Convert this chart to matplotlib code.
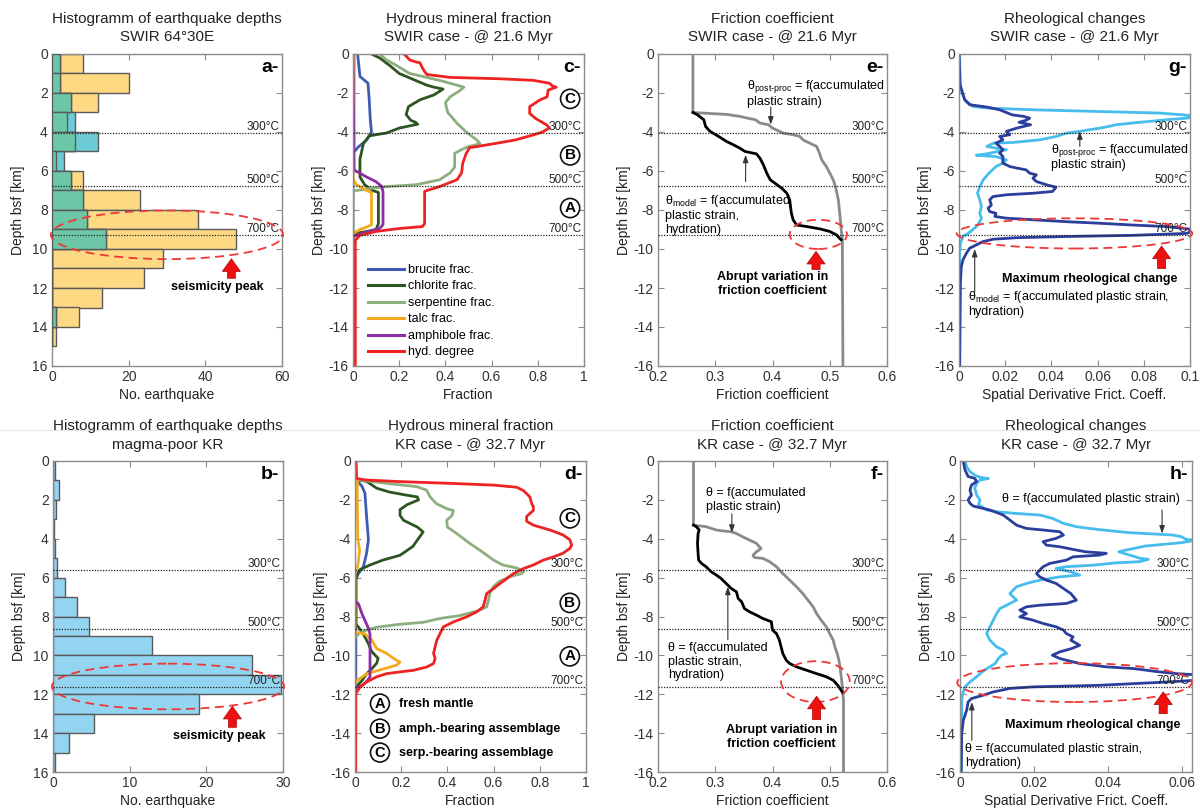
import numpy as np
import matplotlib
matplotlib.use('Agg')
import matplotlib.pyplot as plt
from matplotlib.patches import Ellipse
from matplotlib.lines import Line2D
from matplotlib.ticker import FuncFormatter

plt.rcParams['font.family'] = ['Liberation Sans', 'DejaVu Sans']
plt.rcParams['axes.unicode_minus'] = False
plt.rcParams['mathtext.fontset'] = 'custom'
plt.rcParams['mathtext.rm'] = 'Liberation Sans'
plt.rcParams['mathtext.it'] = 'Liberation Sans:italic'
plt.rcParams['mathtext.bf'] = 'Liberation Sans:bold'

# ---------------- DATA ----------------
# Histogram bins (km below seafloor), 1-km bins
BIN_EDGES_A = list(range(0, 16))
SWIR_YELLOW = [8, 20, 12, 4, 6, 1, 8, 23, 38, 48, 29, 24, 13, 7, 1]
SWIR_CYAN = [2, 2, 5, 6, 12, 3, 5, 8, 9, 14, 0, 0, 0, 1, 0]
BIN_EDGES_B = list(range(0, 17))
KR_COUNTS = [0.2, 0.8, 0.45, 0.1, 0.2, 0.5, 1.5, 3.1, 4.7, 12.9, 26.0, 29.7, 19.1, 5.4, 2.1, 0.2]

ISO_LABELS = ['300°C', '500°C', '700°C']
SWIR_ISO = [4.05, 6.75, 9.3]
KR_ISO = [5.62, 8.64, 11.62]

# Panel c (SWIR hydrous minerals): (depth, fraction)
C_BRUCITE = [(0, 0.02), (-1.15, 0.03), (-1.5, 0.065), (-2.3, 0.07), (-3.4, 0.075), (-4.0, 0.08),
             (-4.4, 0.06), (-4.8, 0.02), (-5.1, 0.0), (-16, 0.0)]
C_CHLORITE = [(0, 0.08), (-0.2, 0.115), (-0.6, 0.16), (-1.0, 0.2), (-1.3, 0.26), (-1.6, 0.32), (-1.7, 0.35),
              (-1.8, 0.39), (-2.1, 0.35), (-2.35, 0.29), (-2.7, 0.24), (-3.1, 0.23), (-3.4, 0.25), (-3.5, 0.27),
              (-3.6, 0.28), (-3.8, 0.2), (-4.05, 0.145), (-4.2, 0.07), (-4.6, 0.045), (-5.4, 0.03), (-6.3, 0.03),
              (-6.7, 0.05), (-7.0, 0.085), (-7.1, 0.11), (-8.7, 0.11), (-9.0, 0.1), (-9.1, 0.06), (-9.2, 0.012),
              (-9.35, 0.0), (-16, 0.0)]
C_SERPENTINE = [(0, 0.115), (-0.3, 0.145), (-0.6, 0.19), (-1.0, 0.245), (-1.2, 0.32), (-1.4, 0.39), (-1.6, 0.45),
                (-1.7, 0.48), (-1.9, 0.46), (-2.2, 0.42), (-2.5, 0.40), (-3.0, 0.41), (-3.2, 0.425), (-3.55, 0.45),
                (-4.0, 0.49), (-4.4, 0.535), (-4.6, 0.55), (-4.75, 0.50), (-4.9, 0.47), (-5.1, 0.44), (-5.8, 0.44),
                (-6.1, 0.42), (-6.45, 0.375), (-6.7, 0.275), (-6.8, 0.145), (-6.9, 0.07), (-7.0, 0.015),
                (-7.05, 0.0), (-16, 0.0)]
C_TALC = [(0, 0.006), (-4.5, 0.005), (-5.0, 0.0), (-6.4, 0.0), (-6.7, 0.015), (-6.9, 0.045), (-7.0, 0.058),
          (-7.1, 0.08), (-8.75, 0.08), (-8.85, 0.065), (-9.0, 0.03), (-9.2, 0.0), (-16, 0.0)]
C_AMPHIBOLE = [(0, 0.0), (-5.95, 0.005), (-6.3, 0.058), (-6.55, 0.1), (-6.8, 0.125), (-7.1, 0.13), (-8.75, 0.13),
               (-8.95, 0.115), (-9.1, 0.07), (-9.3, 0.012), (-9.4, 0.0), (-16, 0.0)]
C_HYD = [(0, 0.22), (-0.1, 0.23), (-0.3, 0.245), (-0.4, 0.27), (-0.45, 0.29), (-0.7, 0.30), (-0.9, 0.31),
         (-1.05, 0.32), (-1.2, 0.42), (-1.27, 0.635), (-1.35, 0.78), (-1.5, 0.85), (-1.65, 0.865), (-1.7, 0.88),
         (-1.85, 0.845), (-2.2, 0.84), (-2.35, 0.81), (-2.7, 0.765), (-3.05, 0.765), (-3.3, 0.79), (-3.65, 0.84),
         (-3.8, 0.85), (-4.0, 0.82), (-4.15, 0.78), (-4.4, 0.705), (-4.55, 0.635), (-4.75, 0.535), (-4.8, 0.505),
         (-5.1, 0.49), (-5.6, 0.475), (-6.1, 0.47), (-6.45, 0.45), (-6.8, 0.375), (-7.0, 0.32), (-7.05, 0.31),
         (-8.7, 0.31), (-8.85, 0.30), (-8.95, 0.20), (-9.1, 0.10), (-9.3, 0.03), (-9.55, 0.01), (-16, 0.01)]

# Panel d (KR hydrous minerals)
D_BRUCITE = [(-0.95, 0.005), (-1.3, 0.03), (-1.65, 0.043), (-2.85, 0.05), (-4.05, 0.058), (-4.75, 0.05),
             (-5.45, 0.036), (-5.8, 0.014), (-6.1, 0.004), (-16, 0.003)]
D_CHLORITE = [(-0.95, 0.0), (-1.05, 0.05), (-1.4, 0.094), (-1.6, 0.15), (-1.75, 0.22), (-1.85, 0.27), (-2.0, 0.275),
              (-2.25, 0.225), (-2.5, 0.195), (-2.8, 0.195), (-3.05, 0.21), (-3.4, 0.27), (-3.65, 0.295),
              (-3.9, 0.28), (-4.4, 0.25), (-4.85, 0.195), (-5.1, 0.12), (-5.35, 0.065), (-5.6, 0.02),
              (-5.95, 0.004), (-8.4, 0.004), (-8.55, 0.015), (-8.9, 0.036), (-9.4, 0.058), (-9.8, 0.072),
              (-10.15, 0.1), (-10.4, 0.094), (-10.7, 0.072), (-10.95, 0.05), (-11.3, 0.03), (-11.55, 0.01),
              (-11.7, 0.0)]
D_SERPENTINE = [(-0.95, 0.0), (-1.03, 0.05), (-1.15, 0.137), (-1.32, 0.267), (-1.5, 0.31), (-1.85, 0.325),
                (-2.2, 0.353), (-2.45, 0.397), (-2.55, 0.426), (-2.8, 0.42), (-3.05, 0.397), (-3.4, 0.40),
                (-3.73, 0.44), (-4.25, 0.498), (-4.65, 0.548), (-5.1, 0.60), (-5.35, 0.64), (-5.5, 0.70),
                (-5.7, 0.73), (-5.8, 0.72), (-5.95, 0.67), (-6.2, 0.625), (-6.45, 0.60), (-6.75, 0.585),
                (-7.15, 0.578), (-7.5, 0.57), (-7.7, 0.535), (-7.95, 0.455), (-8.1, 0.368), (-8.3, 0.296),
                (-8.4, 0.195), (-8.55, 0.094), (-8.7, 0.05), (-8.9, 0.015), (-9.1, 0.0)]
D_TALC = [(-0.95, 0.01), (-2.0, 0.01), (-4.0, 0.012), (-4.6, 0.02), (-5.4, 0.012), (-5.7, 0.0), (-8.8, 0.0),
          (-8.9, 0.043), (-9.2, 0.072), (-9.65, 0.094), (-9.9, 0.137), (-10.15, 0.166), (-10.35, 0.195),
          (-10.5, 0.18), (-10.75, 0.108), (-10.95, 0.05), (-11.2, 0.02), (-11.3, 0.007), (-11.5, 0.0)]
D_AMPHIBOLE = [(-7.2, 0.0), (-7.35, 0.015), (-7.85, 0.03), (-8.2, 0.043), (-8.6, 0.058), (-8.9, 0.065),
               (-11.1, 0.065), (-11.35, 0.05), (-11.55, 0.03), (-11.65, 0.007), (-11.8, 0.0)]
D_HYD = [(0, 0.005), (-0.9, 0.007), (-0.98, 0.05), (-1.06, 0.195), (-1.15, 0.41), (-1.24, 0.6), (-1.35, 0.70),
         (-1.53, 0.73), (-1.85, 0.757), (-2.2, 0.765), (-2.35, 0.772), (-2.55, 0.772), (-2.7, 0.757),
         (-2.85, 0.743), (-3.1, 0.743), (-3.3, 0.772), (-3.55, 0.844), (-3.8, 0.90), (-4.05, 0.93),
         (-4.33, 0.938), (-4.5, 0.93), (-4.75, 0.90), (-4.93, 0.86), (-5.1, 0.815), (-5.35, 0.772),
         (-5.53, 0.73), (-5.8, 0.685), (-6.05, 0.657), (-6.3, 0.628), (-6.56, 0.60), (-6.82, 0.57),
         (-7.16, 0.563), (-7.5, 0.555), (-7.76, 0.527), (-8.02, 0.483), (-8.28, 0.426), (-8.53, 0.383),
         (-8.88, 0.368), (-9.22, 0.354), (-9.56, 0.347), (-9.9, 0.34), (-10.16, 0.347), (-10.42, 0.34),
         (-10.6, 0.31), (-10.77, 0.252), (-10.85, 0.195), (-10.94, 0.137), (-11.1, 0.094), (-11.37, 0.05),
         (-11.63, 0.022), (-11.9, 0.007), (-12.0, 0.003), (-16, 0.003)]

# Panel e (SWIR friction coefficient)
E_POSTPROC = [(0, 0.261), (-3.0, 0.261), (-3.1, 0.32), (-3.2, 0.343), (-3.28, 0.355), (-3.37, 0.37),
              (-3.54, 0.378), (-3.63, 0.393), (-3.8, 0.40), (-4.06, 0.419), (-4.14, 0.436), (-4.23, 0.448),
              (-4.4, 0.453), (-4.57, 0.465), (-4.74, 0.477), (-5.08, 0.482), (-5.43, 0.486), (-5.77, 0.494),
              (-6.1, 0.50), (-6.45, 0.506), (-6.8, 0.51), (-7.48, 0.515), (-8.33, 0.518), (-9.0, 0.52),
              (-9.53, 0.522), (-16, 0.523)]
E_MODEL = [(-3.0, 0.261), (-3.1, 0.268), (-3.37, 0.28), (-3.71, 0.283), (-3.97, 0.291), (-4.23, 0.306),
           (-4.49, 0.32), (-4.66, 0.332), (-4.83, 0.343), (-5.0, 0.352), (-5.12, 0.372), (-5.34, 0.378),
           (-5.68, 0.384), (-6.11, 0.39), (-6.45, 0.396), (-6.62, 0.404), (-6.88, 0.416), (-7.14, 0.425),
           (-7.48, 0.43), (-8.17, 0.433), (-8.5, 0.436), (-8.77, 0.442), (-8.85, 0.46), (-8.97, 0.483),
           (-9.1, 0.50), (-9.28, 0.512), (-9.45, 0.517), (-9.53, 0.52)]

# Panel f (KR friction coefficient)
F_POSTPROC = [(0, 0.262), (-3.3, 0.262), (-3.38, 0.284), (-3.55, 0.302), (-3.6, 0.3135), (-3.64, 0.328),
              (-3.73, 0.337), (-3.9, 0.348), (-4.07, 0.36), (-4.24, 0.372), (-4.41, 0.377), (-4.5, 0.38),
              (-4.67, 0.372), (-4.84, 0.366), (-4.96, 0.368), (-5.01, 0.383), (-5.18, 0.395), (-5.44, 0.407),
              (-5.79, 0.418), (-6.13, 0.43), (-6.47, 0.442), (-6.82, 0.453), (-7.16, 0.462), (-7.5, 0.471),
              (-7.85, 0.477), (-8.19, 0.485), (-8.53, 0.494), (-8.88, 0.50), (-9.22, 0.506), (-9.56, 0.509),
              (-9.9, 0.513), (-10.25, 0.516), (-10.59, 0.518), (-11.1, 0.52), (-11.62, 0.522), (-12.3, 0.524),
              (-16, 0.524)]
F_MODEL = [(-3.3, 0.262), (-3.38, 0.267), (-3.55, 0.272), (-3.73, 0.27), (-4.24, 0.269), (-4.76, 0.27),
           (-5.1, 0.271), (-5.27, 0.276), (-5.44, 0.284), (-5.7, 0.293), (-5.87, 0.302), (-6.04, 0.31),
           (-6.3, 0.319), (-6.56, 0.328), (-6.73, 0.337), (-7.07, 0.34), (-7.24, 0.346), (-7.59, 0.351),
           (-7.76, 0.36), (-7.93, 0.372), (-8.1, 0.383), (-8.27, 0.398), (-8.7, 0.40), (-8.88, 0.407),
           (-9.22, 0.412), (-9.56, 0.415), (-9.9, 0.418), (-10.25, 0.424), (-10.42, 0.43), (-10.59, 0.442),
           (-10.76, 0.459), (-10.94, 0.477), (-11.1, 0.494), (-11.28, 0.506), (-11.54, 0.514), (-11.8, 0.52),
           (-11.93, 0.523)]

# Panel g (SWIR spatial derivative of friction coefficient)
G_POSTPROC = [(0, 0.0003), (-1.8, 0.0004), (-1.83, 0.001), (-2.35, 0.0025), (-2.69, 0.006), (-2.77, 0.012),
              (-2.86, 0.032), (-2.95, 0.061), (-3.03, 0.087), (-3.12, 0.097), (-3.2, 0.103), (-3.29, 0.0986),
              (-3.37, 0.09), (-3.54, 0.075), (-3.63, 0.068), (-3.71, 0.065), (-3.8, 0.061), (-3.97, 0.052),
              (-4.06, 0.0465), (-4.23, 0.042), (-4.4, 0.035), (-4.54, 0.023), (-4.57, 0.015), (-4.74, 0.012),
              (-4.83, 0.016), (-4.91, 0.0205), (-5.12, 0.012), (-5.19, 0.0075), (-5.26, 0.016), (-5.43, 0.0205),
              (-5.6, 0.019), (-5.77, 0.016), (-6.11, 0.013), (-6.45, 0.0105), (-6.8, 0.009), (-7.14, 0.008),
              (-7.48, 0.009), (-7.82, 0.0097), (-8.17, 0.009), (-8.42, 0.0097), (-8.6, 0.009), (-8.85, 0.0075),
              (-9.0, 0.006), (-9.2, 0.004), (-9.36, 0.0017), (-9.7, 0.0006), (-10.2, 0.0003), (-16, 0.0003)]
G_MODEL = [(0, 0.0), (-1.57, 0.0005), (-2.08, 0.0017), (-2.35, 0.0025), (-2.6, 0.0046), (-2.72, 0.012),
           (-2.86, 0.0176), (-3.12, 0.023), (-3.2, 0.028), (-3.29, 0.0306), (-3.4, 0.029), (-3.5, 0.026),
           (-3.63, 0.031), (-3.8, 0.025), (-3.97, 0.0205), (-4.14, 0.022), (-4.23, 0.0176), (-4.4, 0.019),
           (-4.57, 0.016), (-4.74, 0.0176), (-4.91, 0.019), (-5.08, 0.0176), (-5.26, 0.019), (-5.6, 0.019),
           (-5.77, 0.022), (-5.85, 0.025), (-5.94, 0.029), (-6.11, 0.0306), (-6.2, 0.0335), (-6.37, 0.032),
           (-6.54, 0.0335), (-6.71, 0.038), (-6.83, 0.042), (-7.05, 0.0405), (-7.14, 0.032), (-7.22, 0.0205),
           (-7.31, 0.0147), (-7.48, 0.0133), (-7.74, 0.014), (-7.91, 0.0126), (-8.08, 0.0133), (-8.17, 0.016),
           (-8.33, 0.0155), (-8.42, 0.0205), (-8.5, 0.032), (-8.6, 0.0465), (-8.68, 0.061), (-8.77, 0.075),
           (-8.85, 0.09), (-8.94, 0.097), (-9.02, 0.102), (-9.2, 0.0986), (-9.3, 0.075), (-9.36, 0.0465),
           (-9.42, 0.025), (-9.5, 0.0147), (-9.62, 0.0104), (-9.79, 0.0075), (-9.96, 0.0046), (-10.22, 0.0032),
           (-10.56, 0.0017), (-10.9, 0.001), (-11.76, 0.0006), (-16, 0.0003)]

# Panel h (KR spatial derivative of friction coefficient)
H_POSTPROC = [(0, 0.00135), (-0.3, 0.0018), (-0.55, 0.0027), (-0.72, 0.004), (-0.84, 0.0054), (-0.9, 0.0077),
              (-0.98, 0.0054), (-1.15, 0.0045), (-1.4, 0.004), (-1.75, 0.0045), (-2.0, 0.0054), (-2.27, 0.005),
              (-2.35, 0.0059), (-2.52, 0.0072), (-2.61, 0.0099), (-2.7, 0.0153), (-2.78, 0.0216), (-2.95, 0.025),
              (-3.21, 0.028), (-3.38, 0.0315), (-3.47, 0.035), (-3.55, 0.0387), (-3.69, 0.046), (-3.76, 0.053),
              (-3.81, 0.0577), (-3.9, 0.06), (-4.04, 0.0613), (-4.07, 0.064), (-4.2, 0.06), (-4.27, 0.056),
              (-4.38, 0.05), (-4.5, 0.047), (-4.58, 0.045), (-4.67, 0.043), (-4.79, 0.045), (-4.9, 0.047),
              (-5.0, 0.0486), (-5.06, 0.051), (-5.18, 0.0486), (-5.24, 0.0423), (-5.36, 0.036), (-5.44, 0.0288),
              (-5.53, 0.026), (-5.7, 0.03), (-5.87, 0.0324), (-5.96, 0.027), (-6.13, 0.0216), (-6.3, 0.018),
              (-6.47, 0.0153), (-6.82, 0.0135), (-7.16, 0.0153), (-7.42, 0.0126), (-7.59, 0.0108), (-7.85, 0.0099),
              (-8.19, 0.009), (-8.53, 0.0081), (-8.88, 0.0072), (-9.22, 0.0081), (-9.56, 0.0099), (-9.73, 0.0117),
              (-9.9, 0.0126), (-9.99, 0.0113), (-10.16, 0.0104), (-10.42, 0.0095), (-10.59, 0.0081),
              (-10.8, 0.0063), (-11.1, 0.0045), (-11.37, 0.0027), (-11.62, 0.00135), (-11.96, 0.0007),
              (-12.3, 0.0005), (-16, 0.0004)]
H_MODEL = [(0, 0.0009), (-0.46, 0.00135), (-0.8, 0.0022), (-0.89, 0.004), (-1.06, 0.0045), (-1.24, 0.0031),
           (-1.5, 0.0027), (-1.75, 0.0031), (-2.0, 0.0022), (-2.18, 0.0027), (-2.32, 0.0036), (-2.4, 0.0054),
           (-2.52, 0.0081), (-2.78, 0.0117), (-3.04, 0.0135), (-3.3, 0.0153), (-3.47, 0.018), (-3.55, 0.0225),
           (-3.64, 0.027), (-3.81, 0.028), (-3.98, 0.026), (-4.15, 0.0225), (-4.33, 0.0234), (-4.41, 0.027),
           (-4.55, 0.0306), (-4.67, 0.034), (-4.75, 0.0396), (-4.84, 0.0378), (-4.93, 0.0306), (-5.1, 0.0288),
           (-5.27, 0.0243), (-5.44, 0.0225), (-5.61, 0.0216), (-5.79, 0.0207), (-5.96, 0.0216), (-6.13, 0.0234),
           (-6.3, 0.026), (-6.56, 0.028), (-6.82, 0.03), (-7.16, 0.0315), (-7.33, 0.0288), (-7.42, 0.0216),
           (-7.5, 0.018), (-7.67, 0.0162), (-7.85, 0.018), (-8.02, 0.0162), (-8.19, 0.0198), (-8.36, 0.0225),
           (-8.53, 0.026), (-8.7, 0.028), (-8.88, 0.0288), (-9.05, 0.0306), (-9.22, 0.03), (-9.48, 0.0324),
           (-9.65, 0.0302), (-9.82, 0.027), (-9.99, 0.025), (-10.16, 0.027), (-10.25, 0.0288), (-10.42, 0.0324),
           (-10.59, 0.0396), (-10.68, 0.047), (-10.85, 0.054), (-10.94, 0.0586), (-11.0, 0.064), (-11.28, 0.064),
           (-11.37, 0.0559), (-11.54, 0.0378), (-11.62, 0.0198), (-11.7, 0.0135), (-11.88, 0.009),
           (-12.05, 0.0063), (-12.22, 0.0031), (-12.4, 0.0022), (-12.82, 0.0018), (-13.34, 0.0009),
           (-14.03, 0.00045), (-16, 0.0003)]

MINERAL_LABELS = ['brucite frac.', 'chlorite frac.', 'serpentine frac.', 'talc frac.', 'amphibole frac.',
                  'hyd. degree']

# ---------------- STYLE ----------------
COL_BRU = '#3D5BB0'
COL_CHL = '#2D5522'
COL_SRP = '#8DAE7E'
COL_TLC = '#F4A91E'
COL_AMP = '#8C2EA3'
COL_HYD = '#EE2222'
COL_GREY = '#8A8A8A'
COL_LBLUE = '#47BDEE'
COL_DBLUE = '#2B3E9C'
COL_YEL = '#FED983'
COL_CYAN = '#6CCBD6'
COL_GRN = '#6CC7A6'
COL_KR = '#93D5F1'
COL_EDGE = '#5a5a5a'
SPINE = '#8c8c8c'

W, H = 1200, 811
fig = plt.figure(figsize=(12, 8.11), dpi=100)

# thin separator between the two rows (drawn first, behind everything)
fig.add_artist(Line2D([0, 1], [1 - 430 / H, 1 - 430 / H], color='#e6e6e6', lw=0.8, zorder=0))


def make_ax(x0, x1, y0, y1):
    return fig.add_axes([x0 / W, 1 - y1 / H, (x1 - x0) / W, (y1 - y0) / H])


fmt = FuncFormatter(lambda v, p: ('%g' % round(v, 6)))


def style(ax):
    for s in ax.spines.values():
        s.set_color(SPINE)
        s.set_linewidth(1.0)
    ax.tick_params(direction='in', length=4, width=0.8, color=SPINE, labelsize=10,
                   labelcolor='#333333', top=True, right=True, pad=3)
    ax.xaxis.set_major_formatter(fmt)
    ax.yaxis.set_major_formatter(fmt)


def isotherms(ax, depths, sign):
    for d, lab in zip(depths, ISO_LABELS):
        ax.axhline(sign * d, color='#222222', lw=0.9, ls=(0, (1, 1.2)), zorder=5)
        ax.text(0.99, sign * d, lab, transform=ax.get_yaxis_transform(), ha='right', va='bottom',
                fontsize=8.5, color='#222222', zorder=6)


def panel_label(ax, s):
    ax.text(0.985, 0.985, s, transform=ax.transAxes, ha='right', va='top', fontsize=14,
            fontweight='bold', zorder=7)


def red_ellipse(ax, cx, cy, w, h):
    ax.add_patch(Ellipse((cx, cy), w, h, fill=False, ec='#EE3838', lw=1.3, ls=(0, (5, 3)),
                         clip_on=False, zorder=8))


def red_arrow(ax, x, y_tip, y_base):
    ax.annotate('', xy=(x, y_tip), xytext=(x, y_base), annotation_clip=False, zorder=9,
                arrowprops=dict(arrowstyle='simple,head_length=0.7,head_width=1.0,tail_width=0.45',
                                fc='#EE1111', ec='#AA0000', lw=0.5, shrinkA=0, shrinkB=0,
                                mutation_scale=13))


def thin_arrow(ax, x, y_from, y_to):
    ax.annotate('', xy=(x, y_to), xytext=(x, y_from), zorder=9,
                arrowprops=dict(arrowstyle='-|>,head_length=0.5,head_width=0.18', color='#333333',
                                lw=0.8, shrinkA=0, shrinkB=0, mutation_scale=9))


def circ(ax, x, y, s, size=11):
    ax.text(x, y, s, ha='center', va='center', fontsize=size, fontweight='bold', zorder=9,
            bbox=dict(boxstyle='circle,pad=0.17', fc='white', ec='#111111', lw=1.2))


def curve(ax, pts, color, lw=2.0, **kw):
    z = [p[0] for p in pts]
    v = [p[1] for p in pts]
    return ax.plot(v, z, color=color, lw=lw, solid_joinstyle='round', **kw)[0]


def depth_axis_neg(ax):
    ax.set_ylim(-16, 0)
    ax.set_yticks(np.arange(-16, 1, 2))
    ax.set_ylabel('Depth bsf [km]', fontsize=10, labelpad=2, color='#222222')


TITLE_KW = dict(fontsize=11, pad=9, linespacing=1.38, color='#222222')

# ---------------- PANEL a ----------------
ax = make_ax(52, 282, 54, 366)
style(ax)
centers_a = np.array(BIN_EDGES_A[:-1]) + 0.5
yel = np.array(SWIR_YELLOW, float)
cya = np.array(SWIR_CYAN, float)
ax.barh(centers_a, yel, height=1.0, color=COL_YEL, edgecolor=COL_EDGE, lw=1.0, zorder=2)
ax.barh(centers_a, cya, height=1.0, color=COL_CYAN, edgecolor=COL_EDGE, lw=1.0, zorder=3)
ax.barh(centers_a, np.minimum(yel, cya), height=1.0, color=COL_GRN, edgecolor=COL_EDGE, lw=1.0, zorder=4)
ax.set_xlim(0, 60)
ax.set_ylim(16, 0)
ax.set_xticks([0, 20, 40, 60])
ax.set_yticks(np.arange(0, 17, 2))
ax.set_ylabel('Depth bsf [km]', fontsize=10, labelpad=5, color='#222222')
ax.set_xlabel('No. earthquake', fontsize=10, labelpad=3, color='#222222')
ax.set_title('Histogramm of earthquake depths\nSWIR 64°30E', **TITLE_KW)
isotherms(ax, SWIR_ISO, 1)
panel_label(ax, 'a-')
red_ellipse(ax, 30, 9.27, 60.6, 2.5)
red_arrow(ax, 46.8, 10.5, 11.5)
ax.text(43, 11.95, 'seismicity peak', ha='center', va='center', fontsize=9, fontweight='bold', zorder=9)

# ---------------- PANEL b ----------------
ax = make_ax(53, 283, 461, 772)
style(ax)
centers_b = np.array(BIN_EDGES_B[:-1]) + 0.5
ax.barh(centers_b, KR_COUNTS, height=1.0, color=COL_KR, edgecolor=COL_EDGE, lw=1.0, zorder=2)
ax.set_xlim(0, 30)
ax.set_ylim(16, 0)
ax.set_xticks([0, 10, 20, 30])
ax.set_yticks(np.arange(0, 17, 2))
ax.set_ylabel('Depth bsf [km]', fontsize=10, labelpad=5, color='#222222')
ax.set_xlabel('No. earthquake', fontsize=10, labelpad=3, color='#222222')
ax.set_title('Histogramm of earthquake depths\nmagma-poor KR', **TITLE_KW)
isotherms(ax, KR_ISO, 1)
panel_label(ax, 'b-')
red_ellipse(ax, 15, 11.6, 30.3, 2.35)
red_arrow(ax, 23.4, 12.62, 13.7)
ax.text(21.7, 14.17, 'seismicity peak', ha='center', va='center', fontsize=9, fontweight='bold', zorder=9)

# ---------------- PANEL c ----------------
ax = make_ax(353, 584, 54, 366)
style(ax)
hs = []
for pts, col in zip([C_BRUCITE, C_CHLORITE, C_SERPENTINE, C_TALC, C_AMPHIBOLE, C_HYD],
                    [COL_BRU, COL_CHL, COL_SRP, COL_TLC, COL_AMP, COL_HYD]):
    hs.append(curve(ax, pts, col, lw=2.0))
ax.set_xlim(0, 1)
ax.set_xticks(np.arange(0, 1.01, 0.2))
depth_axis_neg(ax)
ax.set_xlabel('Fraction', fontsize=10, labelpad=3, color='#222222')
ax.set_title('Hydrous mineral fraction\nSWIR case - @ 21.6 Myr', **TITLE_KW)
isotherms(ax, SWIR_ISO, -1)
panel_label(ax, 'c-')
circ(ax, 0.94, -2.3, 'C')
circ(ax, 0.94, -5.2, 'B')
circ(ax, 0.94, -7.9, 'A')
leg_handles = [Line2D([0], [0], color=h.get_color(), lw=2.2) for h in hs]
ax.legend(leg_handles, MINERAL_LABELS, loc='upper left', bbox_to_anchor=(0.063, 0.327), frameon=False,
          fontsize=9, handlelength=2.9, handletextpad=0.35, labelspacing=0.36, borderpad=0,
          borderaxespad=0)

# ---------------- PANEL d ----------------
ax = make_ax(355, 586, 461, 772)
style(ax)
for pts, col in zip([D_BRUCITE, D_CHLORITE, D_SERPENTINE, D_TALC, D_AMPHIBOLE, D_HYD],
                    [COL_BRU, COL_CHL, COL_SRP, COL_TLC, COL_AMP, COL_HYD]):
    curve(ax, pts, col, lw=2.0)
ax.set_xlim(0, 1)
ax.set_xticks(np.arange(0, 1.01, 0.2))
depth_axis_neg(ax)
ax.set_xlabel('Fraction', fontsize=10, labelpad=3, color='#222222')
ax.set_title('Hydrous mineral fraction\nKR case - @ 32.7 Myr', **TITLE_KW)
isotherms(ax, KR_ISO, -1)
panel_label(ax, 'd-')
circ(ax, 0.93, -2.95, 'C')
circ(ax, 0.93, -7.3, 'B')
circ(ax, 0.93, -10.05, 'A')
for yy, letter, txt in [(-12.48, 'A', 'fresh mantle'), (-13.77, 'B', 'amph.-bearing assemblage'),
                        (-15.0, 'C', 'serp.-bearing assemblage')]:
    circ(ax, 0.108, yy, letter, size=10.5)
    ax.text(0.19, yy, txt, ha='left', va='center', fontsize=9, fontweight='bold', zorder=9)

# ---------------- PANEL e ----------------
ax = make_ax(658, 887, 54, 366)
style(ax)
curve(ax, E_POSTPROC, COL_GREY, lw=2.0)
curve(ax, E_MODEL, 'black', lw=2.0)
ax.set_xlim(0.2, 0.6)
ax.set_xticks([0.2, 0.3, 0.4, 0.5, 0.6])
depth_axis_neg(ax)
ax.set_xlabel('Friction coefficient', fontsize=10, labelpad=3, color='#222222')
ax.set_title('Friction coefficient\nSWIR case - @ 21.6 Myr', **TITLE_KW)
isotherms(ax, SWIR_ISO, -1)
panel_label(ax, 'e-')
ax.text(0.355, -2.0, 'θ$_{\\mathrm{post}\\text{-}\\mathrm{proc}}$ = f(accumulated\nplastic strain)', ha='left',
        va='center', fontsize=9, linespacing=1.05, zorder=9)
thin_arrow(ax, 0.397, -2.72, -3.62)
ax.text(0.212, -8.23, 'θ$_{\\mathrm{model}}$ = f(accumulated\nplastic strain,\nhydration)', ha='left',
        va='center', fontsize=9, linespacing=1.15, zorder=9)
thin_arrow(ax, 0.353, -6.54, -5.17)
red_ellipse(ax, 0.48, -9.25, 0.1, 1.5)
red_arrow(ax, 0.476, -10.12, -11.05)
ax.text(0.4, -11.8, 'Abrupt variation in\nfriction coefficient', ha='center', va='center', fontsize=9,
        fontweight='bold', linespacing=1.2, zorder=9)

# ---------------- PANEL f ----------------
ax = make_ax(658, 887, 461, 772)
style(ax)
curve(ax, F_POSTPROC, COL_GREY, lw=2.0)
curve(ax, F_MODEL, 'black', lw=2.0)
ax.set_xlim(0.2, 0.6)
ax.set_xticks([0.2, 0.3, 0.4, 0.5, 0.6])
depth_axis_neg(ax)
ax.set_xlabel('Friction coefficient', fontsize=10, labelpad=3, color='#222222')
ax.set_title('Friction coefficient\nKR case - @ 32.7 Myr', **TITLE_KW)
isotherms(ax, KR_ISO, -1)
panel_label(ax, 'f-')
ax.text(0.284, -2.0, 'θ = f(accumulated\nplastic strain)', ha='left', va='center', fontsize=9,
        linespacing=1.25, zorder=9)
thin_arrow(ax, 0.329, -2.72, -3.69)
ax.text(0.217, -10.33, 'θ = f(accumulated\nplastic strain,\nhydration)', ha='left', va='center',
        fontsize=9, linespacing=1.15, zorder=9)
thin_arrow(ax, 0.322, -9.19, -6.47)
red_ellipse(ax, 0.475, -11.35, 0.12, 2.1)
red_arrow(ax, 0.477, -12.1, -13.3)
ax.text(0.416, -14.2, 'Abrupt variation in\nfriction coefficient', ha='center', va='center', fontsize=9,
        fontweight='bold', linespacing=1.2, zorder=9)

# ---------------- PANEL g ----------------
ax = make_ax(959, 1190, 54, 366)
style(ax)
curve(ax, G_POSTPROC, COL_LBLUE, lw=2.0)
curve(ax, G_MODEL, COL_DBLUE, lw=2.0)
ax.set_xlim(0, 0.1)
ax.set_xticks([0, 0.02, 0.04, 0.06, 0.08, 0.1])
depth_axis_neg(ax)
ax.set_xlabel('Spatial Derivative Frict. Coeff.', fontsize=10, labelpad=3, color='#222222')
ax.set_title('Rheological changes\nSWIR case - @ 21.6 Myr', **TITLE_KW)
isotherms(ax, SWIR_ISO, -1)
panel_label(ax, 'g-')
ax.text(0.04, -5.27, 'θ$_{\\mathrm{post}\\text{-}\\mathrm{proc}}$ = f(accumulated\nplastic strain)', ha='left',
        va='center', fontsize=9, linespacing=1.05, zorder=9)
thin_arrow(ax, 0.0523, -4.74, -3.97)
ax.text(0.004, -12.78, 'θ$_{\\mathrm{model}}$ = f(accumulated plastic strain,\nhydration)', ha='left',
        va='center', fontsize=9, linespacing=1.15, zorder=9)
thin_arrow(ax, 0.0068, -12.2, -10.0)
red_ellipse(ax, 0.05, -9.2, 0.102, 1.55)
red_arrow(ax, 0.0877, -9.85, -11.0)
ax.text(0.0566, -11.55, 'Maximum rheological change', ha='center', va='center', fontsize=9,
        fontweight='bold', zorder=9)

# ---------------- PANEL h ----------------
ax = make_ax(960, 1192, 461, 772)
style(ax)
curve(ax, H_POSTPROC, COL_LBLUE, lw=2.0)
curve(ax, H_MODEL, COL_DBLUE, lw=2.0)
ax.set_xlim(0, 0.0628)
ax.set_xticks([0, 0.02, 0.04, 0.06])
depth_axis_neg(ax)
ax.set_xlabel('Spatial Derivative Frict. Coeff.', fontsize=10, labelpad=3, color='#222222')
ax.set_title('Rheological changes\nKR case - @ 32.7 Myr', **TITLE_KW)
isotherms(ax, KR_ISO, -1)
panel_label(ax, 'h-')
ax.text(0.0113, -1.98, 'θ = f(accumulated plastic strain)', ha='left', va='center', fontsize=9, zorder=9)
thin_arrow(ax, 0.0547, -2.52, -3.73)
ax.text(0.00135, -15.18, 'θ = f(accumulated plastic strain,\nhydration)', ha='left', va='center',
        fontsize=9, linespacing=1.15, zorder=9)
thin_arrow(ax, 0.0032, -14.37, -12.4)
red_ellipse(ax, 0.031, -11.4, 0.0635, 2.0)
red_arrow(ax, 0.055, -11.88, -13.0)
ax.text(0.0359, -13.6, 'Maximum rheological change', ha='center', va='center', fontsize=9,
        fontweight='bold', zorder=9)

fig.savefig('out.png', dpi=100)
